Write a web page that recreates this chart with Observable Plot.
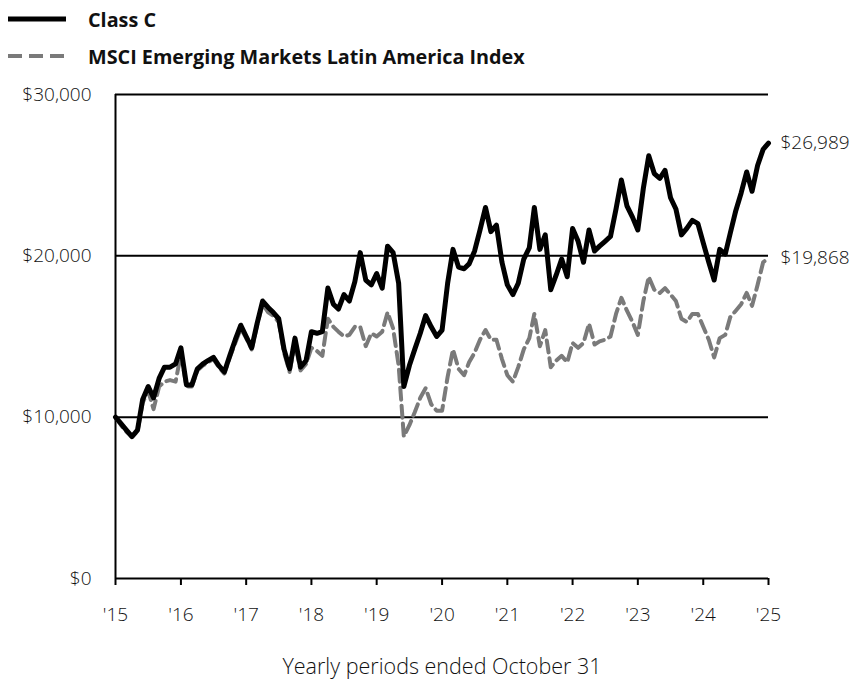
<!DOCTYPE html>
<html><head><meta charset="utf-8">
<script src="https://cdn.jsdelivr.net/npm/d3@7"></script>
<script src="https://cdn.jsdelivr.net/npm/@observablehq/plot@0.6"></script>
<style>
body{margin:0;background:#fff;font-family:"Open Sans",Lato,sans-serif;overflow:hidden;}
#legend{height:76px;position:relative;}
.item{position:absolute;left:8px;display:flex;align-items:center;font-weight:bold;font-size:19.8px;color:#111;}
.item svg{margin-right:22px;}
#chart svg{display:block;}
</style></head><body>
<div id="legend"></div>
<div id="chart"></div>
<script>
const seriesNames = ["Class C", "MSCI Emerging Markets Latin America Index"];
const seriesColors = ["#000000", "#7a7a7a"];
const xTitle = "Yearly periods ended October 31";
const tickLabels = ["'15","'16","'17","'18","'19","'20","'21","'22","'23","'24","'25"];
const yTicks = [0, 10000, 20000, 30000];
// monthly values, Oct 2015 .. Oct 2025
const classC = [
 10000, 9600, 9200, 8800, 9200, 11100, 11900, 11200, 12400, 13100, 13100, 13300,
 14300, 12000, 12000, 13000, 13300, 13500, 13700, 13200, 12800, 13800, 14800, 15700,
 15000, 14300, 15800, 17200, 16800, 16500, 16100, 14200, 13000, 14900, 13100, 13500,
 15300, 15200, 15300, 18000, 17000, 16700, 17600, 17200, 18400, 20200, 18500, 18200,
 18900, 18000, 20600, 20200, 18300, 11900, 13200, 14200, 15200, 16300, 15600, 15000,
 15400, 18300, 20400, 19300, 19200, 19500, 20300, 21600, 23000, 21500, 21900, 19600,
 18200, 17600, 18300, 19800, 20500, 23000, 20400, 21300, 17900, 18800, 19800, 18700,
 21700, 20900, 19600, 21600, 20300, 20600, 20900, 21200, 22900, 24700, 23100, 22400,
 21600, 24200, 26200, 25100, 24800, 25300, 23600, 22900, 21300, 21700, 22200, 22000,
 20800, 19600, 18500, 20400, 20100, 21400, 22800, 23900, 25200, 24000, 25600, 26600,
 26989
];
const msciIndex = [
 10000, 9500, 9100, 8800, 9100, 10900, 11600, 10500, 11900, 12200, 12300, 12200,
 13900, 11900, 11900, 12900, 13200, 13400, 13600, 13100, 12700, 13700, 14600, 15500,
 14900, 14200, 15700, 17000, 16500, 16300, 15900, 14000, 12800, 14600, 12900, 13300,
 14300, 14100, 13800, 16100, 15600, 15300, 15000, 15100, 15600, 15600, 14400, 15200,
 15000, 15300, 16500, 15500, 13200, 8800, 9500, 10300, 11200, 11800, 10800, 10400,
 10400, 12500, 14200, 13000, 12600, 13400, 14000, 14800, 15400, 14800, 14800, 13600,
 12600, 12200, 13100, 14200, 14900, 16400, 14400, 15400, 13100, 13500, 13800, 13400,
 14600, 14300, 14600, 15800, 14500, 14700, 14800, 15000, 16400, 17400, 16600, 15900,
 15100, 17200, 18700, 17900, 17700, 18000, 17600, 17200, 16100, 15900, 16400, 16400,
 15600, 14800, 13700, 14900, 15100, 16200, 16600, 17000, 17700, 16900, 18200, 19600,
 19868
];
const start = new Date(Date.UTC(2015, 9, 1));
const dateAt = i => d3.utcMonth.offset(start, i);
const rows = [];
classC.forEach((v, i) => rows.push({series: seriesNames[0], date: dateAt(i), value: v}));
msciIndex.forEach((v, i) => rows.push({series: seriesNames[1], date: dateAt(i), value: v}));
const lastIdx = classC.length - 1;
const endRows = [
  {date: dateAt(lastIdx), value: classC[lastIdx]},
  {date: dateAt(lastIdx), value: msciIndex[lastIdx]}
];
const tickDates = tickLabels.map((_, k) => dateAt(12 * k));
const money = d => "$" + d3.format(",")(d);

// legend
const legend = document.getElementById("legend");
[[0, 19, false], [1, 56, true]].forEach(([k, y, dashed]) => {
  const div = document.createElement("div");
  div.className = "item";
  div.style.top = (y - 13) + "px";
  div.style.height = "26px";
  div.innerHTML = `<svg width="58" height="10"><line x1="0" x2="58" y1="5" y2="5" stroke="${seriesColors[k]}" stroke-width="${dashed ? 4 : 5}" ${dashed ? 'stroke-dasharray="14,7"' : ''}/></svg><span>${seriesNames[k]}</span>`;
  legend.appendChild(div);
});

const chart = Plot.plot({
  width: 853, height: 610,
  marginTop: 18, marginBottom: 108, marginLeft: 115, marginRight: 85,
  style: {fontFamily: "'Open Sans', sans-serif", fontSize: "19px", fontWeight: 300, color: "#111", background: "white", overflow: "visible"},
  x: {type: "utc", domain: [dateAt(0), dateAt(lastIdx)]},
  y: {domain: [0, 30000]},
  marks: [
    Plot.ruleY(yTicks.slice(1), {stroke: "black", strokeWidth: 2}),
    Plot.ruleX([dateAt(0)], {stroke: "black", strokeWidth: 2}),
    Plot.ruleY([0], {stroke: "black", strokeWidth: 2}),
    Plot.axisY({ticks: yTicks, tickSize: 0, tickPadding: 24, tickFormat: money, label: null}),
    Plot.axisX({ticks: tickDates, tickSize: 7, strokeWidth: 2, stroke: "black", tickPadding: 22,
      tickFormat: d => tickLabels[Math.round((d - start) / (365.25 * 864e5))],
      label: null}),
    Plot.text([xTitle], {frameAnchor: "bottom", dy: 95, fontSize: 21.5, fill: "#111"}),
    Plot.line(rows.filter(d => d.series === seriesNames[1]), {x: "date", y: "value", stroke: seriesColors[1], strokeWidth: 4, strokeDasharray: "12,6"}),
    Plot.line(rows.filter(d => d.series === seriesNames[0]), {x: "date", y: "value", stroke: seriesColors[0], strokeWidth: 5}),
    Plot.text(endRows, {x: "date", y: "value", text: d => money(d.value), dx: 12, textAnchor: "start", fill: "#111"})
  ]
});
document.getElementById("chart").appendChild(chart);
</script>
</body></html>
